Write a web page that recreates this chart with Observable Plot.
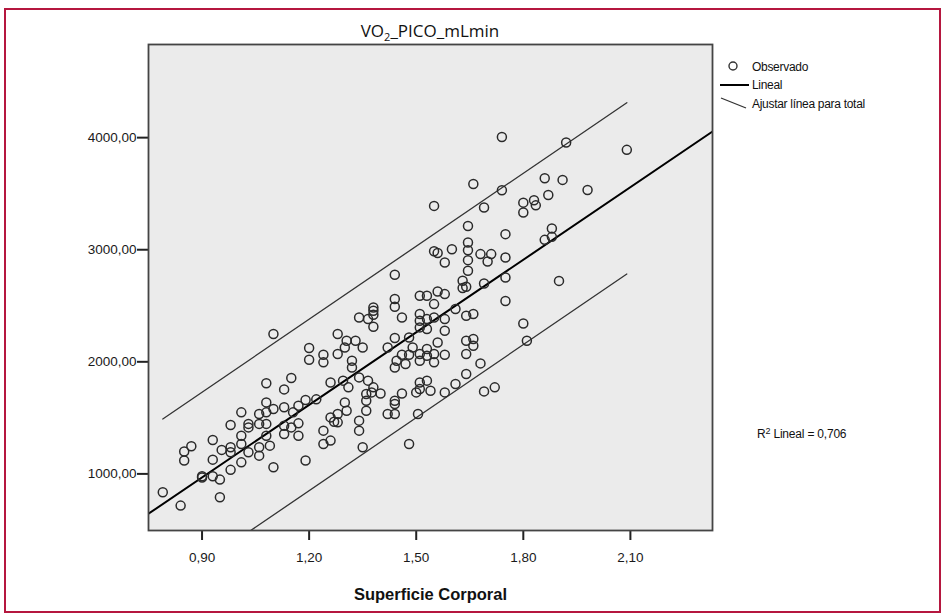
<!DOCTYPE html>
<html><head><meta charset="utf-8">
<script src="https://cdn.jsdelivr.net/npm/d3@7"></script>
<script src="https://cdn.jsdelivr.net/npm/@observablehq/plot@0.6"></script>
<style>
html,body{margin:0;padding:0;background:#fff;}
#wrap{position:relative;width:944px;height:615px;overflow:hidden;font-family:"Liberation Sans",Arial,sans-serif;}
#border{position:absolute;left:4px;top:8px;width:937px;height:605px;border:2px solid #b5173f;box-sizing:border-box;pointer-events:none;}
#title{position:absolute;left:430px;top:30px;transform:translate(-50%,-50%);font-family:"Open Sans","Noto Sans",sans-serif;font-size:17px;color:#111;white-space:nowrap;}
#title sub{font-size:11px;vertical-align:-4px;line-height:0;}
.lg{position:absolute;font-size:12px;color:#111;white-space:nowrap;letter-spacing:-0.3px;transform:translateY(-50%);}
#chart{position:absolute;left:0;top:0;}
#legsvg{position:absolute;left:0;top:0;}
#r2{position:absolute;left:757px;top:434px;transform:translateY(-50%);font-size:12px;color:#111;white-space:nowrap;letter-spacing:-0.2px;}
#r2 sup{font-size:9px;vertical-align:4px;line-height:0;}
</style></head>
<body>
<div id="wrap">
  <div id="chart"></div>
  <svg id="legsvg" width="944" height="615"></svg>
  <div id="title">VO<sub>2</sub>_PICO_mLmin</div>
  <div id="legend"></div>
  <div id="r2"></div>
  <div id="border"></div>
</div>
<script>
// ---- data ----
const bsa = [
 0.79,0.84,0.85,0.85,0.87,0.90,0.90,0.93,0.93,0.93,0.95,0.95,0.955,0.98,0.98,0.98,0.98,1.01,1.01,1.01,1.01,1.03,1.03,1.06,1.06,1.03,1.06,1.06,1.08,1.08,1.08,1.08,1.09,
 1.10,1.20,1.20,1.24,1.24,1.15,1.13,1.08,1.10,1.13,1.19,1.22,1.17,1.155,1.13,1.13,1.15,1.17,1.17,1.24,1.24,1.10,1.19,
 1.55,1.69,1.80,1.80,1.645,1.75,1.645,1.645,1.55,1.56,1.60,1.58,1.68,1.70,1.71,1.645,1.645,1.75,1.75,1.69,1.63,1.63,1.64,1.44,1.75,
 1.51,1.53,1.56,1.58,1.44,1.44,1.55,1.38,1.38,1.38,1.34,1.365,1.38,1.46,1.51,1.51,1.53,1.55,1.58,1.51,1.53,1.58,1.61,1.64,1.66,1.80,1.81,
 1.28,1.305,1.33,1.35,1.30,1.28,1.44,1.42,1.48,1.56,1.64,1.66,1.66,1.49,1.48,1.46,1.445,1.44,1.51,1.53,1.53,1.55,1.58,1.47,1.55,1.51,1.64,1.64,1.68,
 1.32,1.32,1.26,1.295,1.31,1.34,1.365,1.38,1.40,1.36,1.51,1.53,1.51,1.54,1.50,1.58,1.61,1.69,1.72,1.46,1.44,1.44,1.42,1.44,1.505,
 1.30,1.305,1.28,1.26,1.36,1.36,1.375,1.27,1.28,1.34,1.34,1.26,1.35,1.48,
 1.74,1.92,2.09,1.74,1.86,1.91,1.87,1.98,1.83,1.835,1.88,1.88,1.86,1.90,1.66
];
const vo2 = [
 836,717,1200,1120,1246,979,967,1303,1127,979,949,791,1214,1237,1193,1036,1437,1549,1341,1267,1103,1446,1415,1535,1446,1193,1163,1237,1638,1549,1446,1341,1252,
 2248,2123,2019,2063,1995,1856,1754,1808,1579,1594,1660,1665,1609,1549,1430,1356,1415,1451,1341,1386,1267,1059,1119,
 3391,3376,3420,3332,3212,3139,3064,2996,2986,2971,3005,2886,2961,2895,2961,2907,2812,2930,2752,2699,2723,2658,2669,2776,2543,
 2589,2589,2628,2604,2560,2491,2515,2485,2456,2420,2396,2381,2313,2396,2426,2366,2381,2396,2381,2307,2292,2277,2471,2411,2426,2342,2188,
 2248,2188,2188,2128,2128,2069,2212,2128,2217,2173,2188,2203,2143,2128,2063,2063,2010,1950,2069,2114,2054,2069,2063,1980,1995,2010,2069,1891,1986,
 2010,1950,1816,1832,1772,1861,1832,1772,1718,1713,1816,1832,1758,1742,1727,1727,1802,1736,1772,1718,1653,1624,1535,1535,1535,
 1638,1564,1535,1504,1653,1564,1727,1466,1460,1475,1386,1297,1237,1267,
 4006,3957,3891,3530,3638,3623,3489,3533,3441,3396,3189,3115,3088,2722,3586
];
const xTicks = [0.90, 1.20, 1.50, 1.80, 2.10];
const yTicks = [1000, 2000, 3000, 4000];
const xDomain = [0.75, 2.33];
const yDomain = [495, 4831];
const fitIntercept = -974;
const fitSlope = 2158;
const bandX = [0.79, 2.09];
const bandUpper = [1490, 4312];
const bandLower = [-40, 2783];
const legendLabels = ["Observado", "Lineal", "Ajustar línea para total"];
const r2Parts = ["R", "2", " Lineal = 0,706"];
const xTitle = "Superficie Corporal";

// ---- build ----
const pts = bsa.map((x, i) => ({x, y: vo2[i]}));
const fitPts = xDomain.map(x => ({x, y: fitIntercept + fitSlope * x}));
const upPts = bandX.map((x, i) => ({x, y: bandUpper[i]}));
const loPts = bandX.map((x, i) => ({x, y: bandLower[i]}));
const fmt = d => d.toFixed(2).replace(".", ",");

const chart = Plot.plot({
  width: 944, height: 615,
  marginLeft: 148, marginRight: 232, marginTop: 44, marginBottom: 85,
  x: {domain: xDomain},
  y: {domain: yDomain},
  style: {fontFamily: "'Liberation Sans', Arial, sans-serif", fontSize: "13.5px", color: "#1a1a1a", background: "transparent", overflow: "visible"},
  marks: [
    Plot.frame({fill: "#ebebeb", stroke: null}),
    Plot.axisX(xTicks, {tickSize: 10, tickPadding: 12, tickFormat: fmt, label: null, strokeWidth: 2, stroke: "#222"}),
    Plot.axisY(yTicks, {tickSize: 11, tickPadding: 1, tickFormat: fmt, label: null, strokeWidth: 2, stroke: "#222"}),
    Plot.line(upPts, {x: "x", y: "y", stroke: "#333", strokeWidth: 1.3, clip: true}),
    Plot.line(loPts, {x: "x", y: "y", stroke: "#333", strokeWidth: 1.3, clip: true}),
    Plot.line(fitPts, {x: "x", y: "y", stroke: "#000", strokeWidth: 2, clip: true}),
    Plot.dot(pts, {x: "x", y: "y", r: 4.5, stroke: "#2a2a2a", strokeWidth: 1.5, fill: "none"}),
    Plot.frame({stroke: "#444", strokeWidth: 1.8}),
    Plot.text([xTitle], {frameAnchor: "bottom", dy: 69, fontSize: 16.5, fontWeight: "bold", fill: "#111"})
  ]
});
document.getElementById("chart").appendChild(chart);

// legend
const leg = document.getElementById("legend");
const ys = [67, 85, 104];
legendLabels.forEach((t, i) => {
  const d = document.createElement("div");
  d.className = "lg"; d.textContent = t;
  d.style.left = "752px"; d.style.top = ys[i] + "px";
  leg.appendChild(d);
});
const r2 = document.getElementById("r2");
r2.append(r2Parts[0]);
const sp = document.createElement("sup"); sp.textContent = r2Parts[1]; r2.appendChild(sp);
r2.append(r2Parts[2]);

const svg = d3.select("#legsvg");
svg.append("circle").attr("cx", 733).attr("cy", 66).attr("r", 4).attr("fill", "none").attr("stroke", "#333").attr("stroke-width", 1.4);
svg.append("line").attr("x1", 720).attr("x2", 749).attr("y1", 85).attr("y2", 85).attr("stroke", "#000").attr("stroke-width", 2);
svg.append("line").attr("x1", 721).attr("x2", 746).attr("y1", 98).attr("y2", 108).attr("stroke", "#333").attr("stroke-width", 1.3);
</script>
</body></html>
